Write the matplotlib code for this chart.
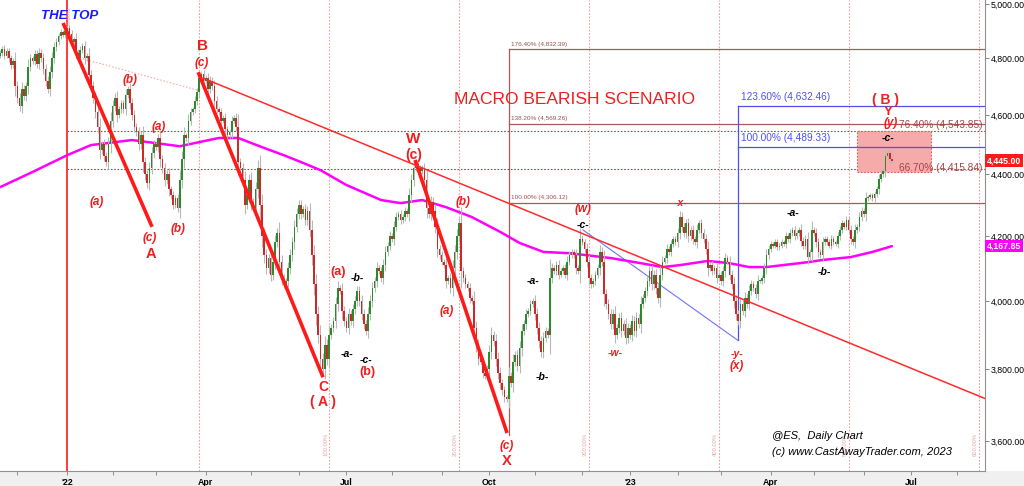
import numpy as np
import pandas as pd
import matplotlib
matplotlib.use('Agg')
import matplotlib.pyplot as plt
import matplotlib.transforms as mtrans
from matplotlib.patches import Rectangle
from matplotlib.ticker import FixedLocator, NullLocator, FixedFormatter

plt.rcParams['font.family'] = ['Liberation Sans', 'DejaVu Sans']

# ---------------- data ----------------
start_date = '2021-11-19'   # first candle (weekday index 0)
first_open = 4810
closes = [
    4820, 4835, 4810, 4825, 4800, 4775, 4790, 4700, 4660, 4630,
    4690, 4665, 4700, 4770, 4800, 4790, 4815, 4780, 4820, 4800,
    4760, 4720, 4690, 4750, 4800, 4840, 4860, 4880, 4895, 4885,
    4900, 4910, 4890, 4860, 4870, 4820, 4800, 4830, 4845, 4800,
    4810, 4740, 4700, 4660, 4610, 4560, 4480, 4500, 4460, 4440,
    4500, 4580, 4630, 4660, 4600, 4620, 4640, 4620, 4670, 4690,
    4640, 4600, 4560, 4540, 4500, 4530, 4440, 4400, 4370, 4420,
    4470, 4500, 4490, 4520, 4450, 4420, 4380, 4400, 4350, 4330,
    4300, 4320, 4290, 4380, 4450, 4530, 4520, 4580, 4610, 4620,
    4650, 4680, 4730, 4745, 4720, 4730, 4690, 4720, 4700, 4650,
    4620, 4610, 4580, 4590, 4550, 4530, 4540, 4580, 4590, 4560,
    4440, 4420, 4380, 4300, 4330, 4380, 4310, 4290, 4350, 4420,
    4300, 4200, 4140, 4100, 4130, 4080, 4120, 4180, 4210, 4120,
    4070, 4050, 4060, 4100, 4140, 4180, 4230, 4270, 4300, 4270,
    4285, 4250, 4280, 4220, 4140, 4050, 3960, 3900, 3830, 3800,
    3870, 3830, 3900, 3920, 3940, 3990, 4040, 4030, 3970, 3940,
    3920, 3960, 3940, 3975, 4000, 4030, 4000, 3960, 3930, 3910,
    3960, 4000, 4040, 4060, 4100, 4090, 4070, 4110, 4150, 4170,
    4200, 4190, 4230, 4260, 4270, 4250, 4260, 4280, 4270, 4330,
    4380, 4420, 4435, 4420, 4410, 4420, 4380, 4290, 4270, 4310,
    4280, 4230, 4160, 4140, 4120, 4110, 4060, 4070, 4040, 4100,
    4150, 4200, 4240, 4090, 4070, 4050, 4040, 4010, 4000, 3920,
    3870, 3830, 3820, 3790, 3780, 3800, 3850, 3900, 3880, 3830,
    3790, 3760, 3740, 3720, 3715, 3780, 3760, 3820, 3840, 3810,
    3860, 3910, 3930, 3960, 3970, 3990, 4000, 3960, 3920, 3880,
    3850, 3890, 3910, 3900, 4070, 4100, 4090, 4110, 4080, 4090,
    4100, 4080, 4120, 4140, 4150, 4140, 4100, 4090, 4190, 4180,
    4160, 4120, 4070, 4050, 4060, 4080, 4100, 4150, 4120, 4020,
    3990, 3960, 3930, 3960, 3900, 3920, 3950, 3910, 3930, 3890,
    3920, 3900, 3940, 3910, 3950, 3930, 3990, 4010, 4030, 4060,
    4090, 4050, 4080, 4040, 4010, 4080, 4120, 4130, 4160, 4150,
    4175, 4190, 4180, 4210, 4260, 4230, 4210, 4240, 4200, 4220,
    4190, 4180, 4220, 4240, 4210, 4190, 4160, 4100, 4110, 4090,
    4100, 4070, 4080, 4060, 4090, 4130, 4120, 4080, 4050, 4000,
    3960, 3940, 3990, 3970, 4010, 3990, 4030, 4050, 4040, 4020,
    4060, 4060, 4070, 4100, 4140, 4160, 4175, 4170, 4180, 4165,
    4170, 4180, 4175, 4200, 4190, 4210, 4220, 4200, 4210, 4220,
    4185, 4170, 4190, 4135, 4150, 4220, 4210, 4180, 4150, 4140,
    4180, 4190, 4180, 4170, 4190, 4180, 4175, 4200, 4220, 4240,
    4230, 4250, 4220, 4190, 4180, 4220, 4230, 4260, 4280, 4270,
    4320, 4325, 4330, 4320, 4335, 4350, 4385, 4400, 4410, 4460,
    4470, 4450, 4445,
]

# 200-day moving average (weekday index, value)
ma_idx = [0, 15, 31, 42, 61, 83, 101, 110, 121, 131, 139, 148, 160, 176, 185,
          195, 206, 218, 231, 240, 251, 263, 282, 296, 306, 314, 327, 337, 346,
          354, 373, 380, 393, 403, 412]
ma_val = [4357, 4407, 4463, 4497, 4514, 4493, 4521, 4521, 4490, 4463, 4440,
          4413, 4364, 4315, 4305, 4315, 4292, 4260, 4213, 4178, 4150, 4146,
          4131, 4115, 4103, 4109, 4122, 4115, 4103, 4103, 4118, 4125, 4134,
          4150, 4168]

# trend lines (weekday index, price)
thick_lines = [((29.1, 4929), (70.2, 4229)),
               ((91.5, 4750), (149.2, 3777)),
               ((191.7, 4447), (234.2, 3622))]
thin_line = ((93.8, 4729), (455.0, 3717))
dotted_line = ((38.3, 4798), (91.0, 4687))

fib_x0 = 235.0
fib_base = 3617.3
fib_levels = [4306.12, 4569.26, 4832.39]
fib_labels = ['100.00% (4,306.12)', '138.20% (4,569.26)', '176.40% (4,832.39)']

blue_x0 = 340.9
blue_base = 3882.8
blue_levels = [4489.33, 4632.46]
blue_labels = ['100.00% (4,489.33)', '123.60% (4,632.46)']
blue_diag = ((269.3, 4219), (340.9, 3882.8))

ret_x0 = 31
ret_levels = [4415.84, 4543.85]
ret_labels = ['66.70% (4,415.84)', '76.40% (4,543.85)']

zone_x = (395.9, 430.0)
zone_y = (4407, 4543.85)

time_fib_idx = [92, 152, 212, 272, 332, 392, 452]
time_fib_labels = ['', '100.00%', '200.00%', '300.00%', '400.00%', '500.00%', '600.00%']

last_price = 4445.00
ma_last = 4167.85

y_ticks = [3600, 3800, 4000, 4200, 4400, 4600, 4800, 5000]
x_tick_dates = ['2022-01-03', '2022-04-01', '2022-07-01', '2022-10-03',
                '2023-01-02', '2023-04-03', '2023-07-03']
x_tick_labels = ["'22", 'Apr', 'Jul', 'Oct', "'23", 'Apr', 'Jul']

# ---------------- figure ----------------
W, H = 1024, 486
fig = plt.figure(figsize=(W / 100, H / 100), dpi=100)
fig.patch.set_facecolor('white')
fig.patches.append(Rectangle((0, 0), 1, 15 / H, transform=fig.transFigure,
                             facecolor='#f0f0f0', edgecolor='none', zorder=-5))
ax = fig.add_axes([0, 15 / H, 985 / W, 471 / H])
ax.set_facecolor('white')
ax.set_yscale('log')
ax.set_xlim(-0.05, 455.0)
ax.set_ylim(3520, 5015)

RED = '#f01e1e'
BROWN = '#a85a5a'
BLUE = '#5050f0'

def px(x, y):
    return x / 985.0, 1 - y / 471.0

# time fib dotted verticals
for i, lab in zip(time_fib_idx, time_fib_labels):
    ax.axvline(i, color='#eaa0a0', lw=0.8, ls=(0, (1.5, 1.5)), zorder=1)
    if lab:
        ax.text(i - 1.6, 3560, lab, rotation=90, fontsize=4.2, color='#e0a8a8',
                ha='center', va='bottom', zorder=1)
ax.text(31.7, 4990, '100.00%', rotation=90, fontsize=4.2, color='#e8a0a0',
        ha='center', va='top')

# red vertical at the top
ax.axvline(31, color='#ff2a2a', lw=1.3, zorder=2)

# dotted retracement lines
for lv in ret_levels:
    ax.plot([ret_x0, 455], [lv, lv], color='#a04848', lw=0.8,
            ls=(0, (1.5, 1.5)), zorder=2)

# retracement zone
ax.add_patch(Rectangle((zone_x[0], zone_y[0]), zone_x[1] - zone_x[0],
                       zone_y[1] - zone_y[0], facecolor='#f6aaaa',
                       edgecolor='#e05a5a', lw=0.8, ls=(0, (1.5, 1.5)), zorder=2))

# fib (brown)
ax.plot([fib_x0, fib_x0], [fib_base, fib_levels[-1]], color=BROWN, lw=0.9, zorder=2)
for lv, lab in zip(fib_levels, fib_labels):
    ax.plot([fib_x0, 455], [lv, lv], color=BROWN, lw=0.9, zorder=2)
    ax.text(fib_x0 + 1.0, lv * 1.002, lab, fontsize=4.6, color='#a05050',
            ha='left', va='bottom')

# fib (blue)
ax.plot([blue_x0, blue_x0], [blue_base, blue_levels[-1]], color=BLUE, lw=0.9, zorder=2)
for lv, lab in zip(blue_levels, blue_labels):
    ax.plot([blue_x0, 455], [lv, lv], color=BLUE, lw=0.9, zorder=2)
    ax.text(blue_x0 + 1.5, lv * 1.003, lab, fontsize=7.3, color=BLUE,
            ha='left', va='bottom')
ax.plot([blue_diag[0][0], blue_diag[1][0]], [blue_diag[0][1], blue_diag[1][1]],
        color='#7070ff', lw=0.8, zorder=2)

for lv, lab in zip(ret_levels, ret_labels):
    ax.text(454, lv * 1.001, lab, fontsize=7.3, color='#a04848',
            ha='right', va='bottom' if lv > 4500 else 'center')

# moving average
ax.plot(ma_idx, ma_val, color='#ff00ff', lw=1.8, zorder=3, solid_capstyle='round')

# candles
c = np.array(closes, dtype=float)
o = np.concatenate([[first_open], c[:-1]])
x = np.arange(len(c))
body_hi = np.maximum(o, c)
body_lo = np.minimum(o, c)
rng = body_hi - body_lo
hi = body_hi + 6 + 0.3 * rng
lo = body_lo - 6 - 0.3 * rng
ax.vlines(x, lo, hi, color='#b8b8b8', lw=0.8, zorder=4)
up = c >= o
h = np.maximum(rng, 3)
ax.bar(x[up], h[up], bottom=body_lo[up], width=0.75, color='#2c8a2c',
       edgecolor='none', zorder=5)
ax.bar(x[~up], h[~up], bottom=body_lo[~up], width=0.75, color='#cc2a2a',
       edgecolor='none', zorder=5)

# trend lines
for (p0, p1) in thick_lines:
    ax.plot([p0[0], p1[0]], [p0[1], p1[1]], color='#ff1a1a', lw=2.6, zorder=6,
            solid_capstyle='butt')
ax.plot([thin_line[0][0], thin_line[1][0]], [thin_line[0][1], thin_line[1][1]],
        color='#ff2a2a', lw=1.1, zorder=6)
ax.plot([dotted_line[0][0], dotted_line[1][0]], [dotted_line[0][1], dotted_line[1][1]],
        color='#f0b0b0', lw=0.8, ls=(0, (1.5, 1.5)), zorder=2)

# wave labels (text, x_px, y_px, colour, style, weight, size)
labels = [
    ('THE TOP', 70, 16, '#1a1aff', 'italic', 'bold', 9.5),
    ('B', 202, 46, RED, 'normal', 'bold', 11),
    ('(c)', 202, 63, RED, 'italic', 'bold', 8.5),
    ('(b)', 130, 80, RED, 'italic', 'bold', 8.5),
    ('(a)', 159, 127, RED, 'italic', 'bold', 8.5),
    ('(a)', 97, 202, RED, 'italic', 'bold', 8.5),
    ('(c)', 150, 238, RED, 'italic', 'bold', 8.5),
    ('A', 151, 254, RED, 'normal', 'bold', 10.5),
    ('(b)', 178, 229, RED, 'italic', 'bold', 8.5),
    ('C', 323, 387, RED, 'normal', 'bold', 10),
    ('( A )', 323, 402, RED, 'normal', 'bold', 10),
    ('(a)', 338, 272, RED, 'normal', 'bold', 9),
    ('(b)', 367, 372, RED, 'normal', 'bold', 9),
    ('W', 413, 139, RED, 'normal', 'bold', 11),
    ('(c)', 414, 155, RED, 'normal', 'bold', 10),
    ('(b)', 463, 202, RED, 'italic', 'bold', 8.5),
    ('(a)', 447, 311, RED, 'italic', 'bold', 8.5),
    ('(c)', 507, 446, RED, 'italic', 'bold', 8.5),
    ('X', 507, 461, RED, 'normal', 'bold', 10.5),
    ('(w)', 583, 209, RED, 'italic', 'bold', 8.5),
    ('-x-', 681, 203, RED, 'italic', 'bold', 7.5),
    ('-w-', 615, 353, RED, 'italic', 'bold', 7.5),
    ('-y-', 737, 354, RED, 'italic', 'bold', 7.5),
    ('(x)', 737, 366, RED, 'italic', 'bold', 8.5),
    ('( B )', 886, 100, RED, 'normal', 'bold', 10),
    ('Y', 888, 112, RED, 'normal', 'bold', 9.5),
    ('(y)', 891, 123, RED, 'italic', 'bold', 8.5),
    ('-a-', 347, 354, 'black', 'italic', 'bold', 7.5),
    ('-b-', 357, 278, 'black', 'italic', 'bold', 7.5),
    ('-c-', 366, 360, 'black', 'italic', 'bold', 7.5),
    ('-a-', 533, 281, 'black', 'italic', 'bold', 7.5),
    ('-b-', 542, 377, 'black', 'italic', 'bold', 7.5),
    ('-c-', 583, 225, 'black', 'italic', 'bold', 7.5),
    ('-a-', 793, 213, 'black', 'italic', 'bold', 7.5),
    ('-b-', 824, 272, 'black', 'italic', 'bold', 7.5),
    ('-c-', 888, 138, 'black', 'italic', 'bold', 7.5),
]
for t, xx, yy, col, st, wt, sz in labels:
    ax.text(*px(xx, yy), t, transform=ax.transAxes, color=col, fontstyle=st,
            fontweight=wt, fontsize=sz, ha='center', va='center', zorder=8)

ax.text(*px(574, 100), 'MACRO BEARISH SCENARIO', transform=ax.transAxes,
        color=RED, fontsize=12.5, ha='center', va='center', zorder=8)
ax.text(*px(772, 436), '@ES,  Daily Chart', transform=ax.transAxes,
        fontsize=8, fontstyle='italic', ha='left', va='center', zorder=8)
ax.text(*px(772, 452), '(c) www.CastAwayTrader.com, 2023', transform=ax.transAxes,
        fontsize=8, fontstyle='italic', ha='left', va='center', zorder=8)

# axes styling
for s in ['top', 'left']:
    ax.spines[s].set_visible(False)
for s in ['right', 'bottom']:
    ax.spines[s].set_color('#909090')
    ax.spines[s].set_linewidth(0.8)

ax.yaxis.tick_right()
ax.yaxis.set_major_locator(FixedLocator(y_ticks))
ax.yaxis.set_major_formatter(FixedFormatter([f'{v:,.2f}' for v in y_ticks]))
ax.yaxis.set_minor_locator(NullLocator())
ax.tick_params(axis='y', which='major', labelsize=6.3, length=3, width=0.6,
               color='#707070', pad=1)

base = np.datetime64(start_date)
xt = [int(np.busday_count(base, np.datetime64(d))) for d in x_tick_dates]
months = pd.date_range('2021-12-01', '2023-08-01', freq='MS').values.astype('datetime64[D]')
xm = [int(np.busday_count(base, d)) for d in months]
ax.xaxis.set_major_locator(FixedLocator(xt))
ax.xaxis.set_major_formatter(FixedFormatter(x_tick_labels))
ax.xaxis.set_minor_locator(FixedLocator(xm))
ax.tick_params(axis='x', which='both', labelsize=6.3, length=3, width=0.6,
               color='#808080', pad=2)
for lab in ax.get_xticklabels():
    lab.set_fontweight('bold')

blend = mtrans.blended_transform_factory(ax.transAxes, ax.transData)
ax.text(1.002, last_price, f'{last_price:,.2f}', transform=blend, color='white',
        fontsize=6.3, fontweight='bold', ha='left', va='center',
        bbox=dict(boxstyle='square,pad=0.2', fc='#ff1a1a', ec='none'), zorder=9)
ax.text(1.002, ma_last, f'{ma_last:,.2f}', transform=blend, color='white',
        fontsize=6.3, fontweight='bold', ha='left', va='center',
        bbox=dict(boxstyle='square,pad=0.2', fc='#ff00ff', ec='none'), zorder=9)

fig.savefig('out.png', dpi=100)
